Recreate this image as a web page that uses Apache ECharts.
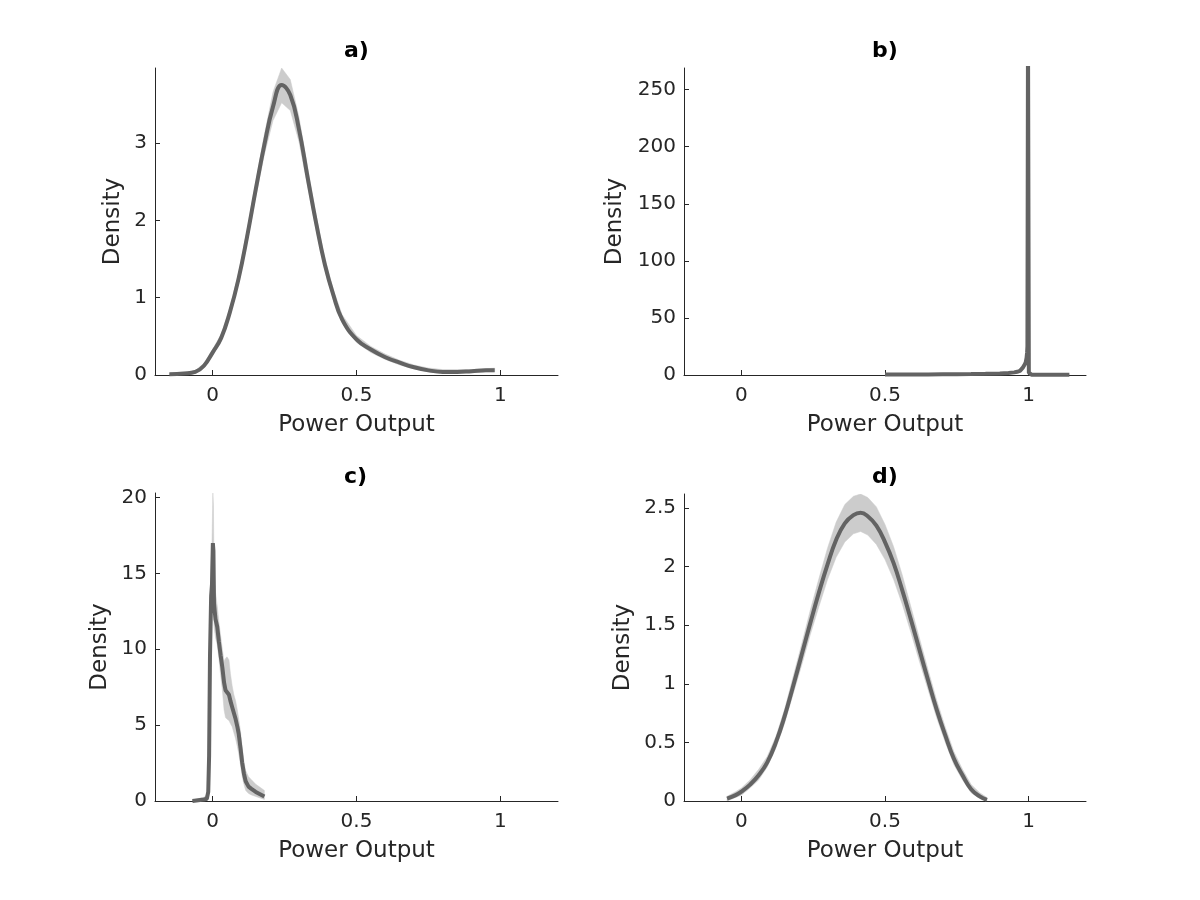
<!DOCTYPE html>
<html>
<head>
<meta charset="utf-8">
<title>Power Output density</title>
<script src="https://cdn.jsdelivr.net/npm/echarts@6/dist/echarts.min.js"></script>
<style>
  html, body { margin: 0; padding: 0; background: #fff; }
  #chart { width: 1200px; height: 900px; }
</style>
</head>
<body>
<div id="chart"></div>
<script>
// ===== Data =====

const xTicks = [0, 0.5, 1];
const yTicksA = [0, 1, 2, 3];
const yTicksB = [0, 50, 100, 150, 200, 250];
const yTicksC = [0, 5, 10, 15, 20];
const yTicksD = [0, 0.5, 1, 1.5, 2, 2.5];

// a)
const aX    = [-0.15, -0.10, -0.06, -0.03, 0.00, 0.03, 0.06, 0.09, 0.12, 0.15, 0.18, 0.21, 0.24, 0.27, 0.30, 0.33, 0.36, 0.39, 0.42, 0.45, 0.50, 0.55, 0.60, 0.65, 0.70, 0.75, 0.80, 0.85, 0.90, 0.95, 0.98];
const aMean = [0.01, 0.02, 0.04, 0.12, 0.29, 0.48, 0.81, 1.24, 1.79, 2.40, 2.98, 3.47, 3.75, 3.62, 3.18, 2.56, 1.96, 1.43, 1.03, 0.72, 0.46, 0.33, 0.23, 0.16, 0.10, 0.06, 0.04, 0.04, 0.05, 0.06, 0.06];
const aLow  = [0.00, 0.01, 0.02, 0.09, 0.25, 0.44, 0.76, 1.18, 1.71, 2.30, 2.85, 3.29, 3.52, 3.42, 3.02, 2.44, 1.87, 1.36, 0.97, 0.67, 0.42, 0.29, 0.20, 0.13, 0.08, 0.04, 0.03, 0.03, 0.03, 0.04, 0.04];
const aHigh = [0.02, 0.03, 0.06, 0.15, 0.33, 0.53, 0.87, 1.31, 1.87, 2.50, 3.11, 3.66, 3.97, 3.82, 3.34, 2.69, 2.06, 1.51, 1.10, 0.78, 0.51, 0.37, 0.27, 0.19, 0.13, 0.09, 0.07, 0.07, 0.07, 0.08, 0.09];

// b)
const bX    = [0.50, 0.55, 0.60, 0.65, 0.70, 0.75, 0.80, 0.85, 0.90, 0.93, 0.95, 0.96, 0.97, 0.98, 0.985, 0.99, 0.993, 0.995, 0.996, 0.998, 1.000, 1.001, 1.003, 1.01, 1.05, 1.10, 1.142];
const bMean = [0.4, 0.4, 0.5, 0.5, 0.6, 0.7, 0.8, 1.0, 1.3, 1.8, 2.3, 2.8, 3.6, 6.5, 8.5, 11, 15, 20, 25, 300, 300, 2.0, 0.5, 0.3, 0.3, 0.3, 0.3];
const bLow  = [0.2, 0.2, 0.3, 0.3, 0.4, 0.5, 0.6, 0.8, 1.0, 1.4, 1.8, 2.2, 2.9, 5.2, 6.8, 8.8, 12, 16, 20, 290, 290, 1.0, 0.2, 0.1, 0.1, 0.1, 0.1];
const bHigh = [0.6, 0.6, 0.7, 0.7, 0.8, 0.9, 1.0, 1.2, 1.6, 2.2, 2.8, 3.4, 4.3, 7.8, 10.2, 13.2, 18, 24, 30, 310, 310, 3.0, 0.8, 0.5, 0.5, 0.5, 0.5];

// c)
const cX    = [-0.070, -0.050, -0.030, -0.020, -0.015, -0.012, -0.009, -0.005, -0.002, 0.001, 0.003, 0.005, 0.010, 0.016, 0.022, 0.028, 0.034, 0.040, 0.045, 0.050, 0.057, 0.062, 0.068, 0.074, 0.080, 0.086, 0.091, 0.097, 0.103, 0.109, 0.115, 0.125, 0.135, 0.150, 0.165, 0.180];
const cMean = [0.00, 0.05, 0.10, 0.15, 0.60, 3.00, 9.50, 13.5, 14.3, 17.0, 16.5, 13.0, 12.0, 11.5, 10.5, 9.6, 8.8, 7.8, 7.3, 7.3, 7.0, 6.6, 6.2, 5.8, 5.4, 4.9, 4.4, 3.5, 2.5, 1.8, 1.3, 0.95, 0.80, 0.60, 0.45, 0.30];
const cLow  = [0.00, 0.00, 0.00, 0.00, 0.20, 2.00, 8.00, 12.0, 12.5, 14.5, 14.0, 11.5, 10.8, 10.3, 9.4, 8.3, 7.3, 6.0, 5.5, 5.4, 5.3, 5.1, 4.9, 4.5, 4.1, 3.6, 3.1, 2.4, 1.6, 1.1, 0.7, 0.5, 0.4, 0.3, 0.2, 0.1];
const cHigh = [0.05, 0.15, 0.25, 0.40, 1.20, 4.50, 11.5, 15.5, 17.0, 20.3, 19.5, 15.5, 13.8, 12.9, 11.8, 10.9, 10.0, 9.2, 9.4, 9.5, 9.3, 8.4, 7.6, 7.0, 6.6, 6.0, 5.4, 4.6, 3.5, 2.6, 2.0, 1.6, 1.4, 1.1, 0.9, 0.7];

// d)
const dX    = [-0.05, -0.02, 0.00, 0.03, 0.06, 0.09, 0.12, 0.15, 0.18, 0.21, 0.24, 0.27, 0.30, 0.33, 0.36, 0.39, 0.415, 0.44, 0.47, 0.50, 0.53, 0.56, 0.59, 0.62, 0.65, 0.68, 0.71, 0.74, 0.77, 0.80, 0.83, 0.855];
const dMean = [0.02, 0.05, 0.08, 0.14, 0.22, 0.33, 0.50, 0.72, 0.98, 1.25, 1.52, 1.78, 2.02, 2.23, 2.37, 2.44, 2.46, 2.43, 2.35, 2.21, 2.03, 1.80, 1.55, 1.29, 1.03, 0.78, 0.56, 0.36, 0.22, 0.10, 0.04, 0.01];
const dLow  = [0.00, 0.03, 0.05, 0.11, 0.18, 0.29, 0.45, 0.66, 0.91, 1.16, 1.42, 1.66, 1.89, 2.08, 2.21, 2.28, 2.30, 2.27, 2.19, 2.06, 1.89, 1.68, 1.44, 1.19, 0.95, 0.71, 0.50, 0.31, 0.18, 0.07, 0.02, 0.00];
const dHigh = [0.04, 0.08, 0.11, 0.18, 0.27, 0.38, 0.55, 0.78, 1.06, 1.34, 1.63, 1.90, 2.16, 2.38, 2.53, 2.60, 2.62, 2.59, 2.51, 2.36, 2.17, 1.93, 1.66, 1.39, 1.12, 0.86, 0.63, 0.42, 0.27, 0.14, 0.07, 0.03];

// ===== Layout =====

const TEXT = '#262626';
const FONT = 'DejaVu Sans';
const LINE_COLOR = '#636363';
const BAND_COLOR = '#cccccc';

const panels = [
  { title: 'a)', x: aX, mean: aMean, low: aLow, high: aHigh, yMax: 3.97, yTicks: yTicksA, smooth: 0.45,
    grid: { left: 155, top: 68, width: 403, height: 307 }, nameGap: 30, titlePos: { left: 344, top: 40 } },
  { title: 'b)', x: bX, mean: bMean, low: bLow, high: bHigh, yMax: 269, yTicks: yTicksB, smooth: false,
    grid: { left: 684, top: 68, width: 402, height: 307 }, nameGap: 57, titlePos: { left: 872, top: 40 } },
  { title: 'c)', x: cX, mean: cMean, low: cLow, high: cHigh, yMax: 20.3, yTicks: yTicksC, smooth: false,
    grid: { left: 155, top: 493, width: 403, height: 308 }, nameGap: 43, titlePos: { left: 344, top: 466 } },
  { title: 'd)', x: dX, mean: dMean, low: dLow, high: dHigh, yMax: 2.62, yTicks: yTicksD, smooth: 0.45,
    grid: { left: 684, top: 494, width: 402, height: 307 }, nameGap: 49, titlePos: { left: 872, top: 466 } }
];

function axisStyle(ticks) {
  return {
    axisLine: { onZero: false, lineStyle: { color: TEXT, width: 1 } },
    axisTick: { inside: true, length: 5, customValues: ticks, lineStyle: { color: TEXT, width: 1 } },
    splitLine: { show: false },
    nameTextStyle: { color: TEXT, fontFamily: FONT, fontSize: 23 }
  };
}

// confidence band: one polygon, upper edge forward and lower edge back
function bandRenderer(p) {
  return function (params, api) {
    if (params.dataIndex !== 0) return null;
    const pts = [];
    for (let k = 0; k < p.x.length; k++) pts.push(api.coord([p.x[k], p.high[k]]));
    for (let k = p.x.length - 1; k >= 0; k--) pts.push(api.coord([p.x[k], p.low[k]]));
    return {
      type: 'polygon',
      shape: { points: pts },
      style: { fill: BAND_COLOR, stroke: BAND_COLOR, lineWidth: 0.5 }
    };
  };
}

function buildOption() {
  const option = {
    animation: false,
    backgroundColor: '#ffffff',
    title: [], grid: [], xAxis: [], yAxis: [], series: []
  };

  panels.forEach((p, i) => {
    option.title.push({
      text: p.title,
      left: p.titlePos.left,
      top: p.titlePos.top,
      padding: 0,
      textStyle: { color: '#000', fontFamily: FONT, fontSize: 22, fontWeight: 'bold' }
    });
    option.grid.push(p.grid);

    option.xAxis.push(Object.assign(axisStyle(xTicks), {
      type: 'value', gridIndex: i, min: -0.2, max: 1.2,
      name: 'Power Output', nameLocation: 'middle', nameGap: 39,
      axisLabel: { customValues: xTicks, color: TEXT, fontFamily: FONT, fontSize: 20, margin: 11 }
    }));

    option.yAxis.push(Object.assign(axisStyle(p.yTicks), {
      type: 'value', gridIndex: i, min: 0, max: p.yMax,
      name: 'Density', nameLocation: 'middle', nameGap: p.nameGap,
      axisLabel: { customValues: p.yTicks, color: TEXT, fontFamily: FONT, fontSize: 20, margin: 8 }
    }));

    option.series.push({
      type: 'custom', xAxisIndex: i, yAxisIndex: i,
      data: p.x.map((v, k) => [v, p.low[k], p.high[k]]),
      encode: { x: 0, y: [1, 2] },
      renderItem: bandRenderer(p),
      clip: true, silent: true, z: 1
    });
    option.series.push({
      type: 'line', xAxisIndex: i, yAxisIndex: i,
      data: p.x.map((v, k) => [v, p.mean[k]]),
      symbol: 'none', smooth: p.smooth, z: 2,
      lineStyle: { color: LINE_COLOR, width: 4 }
    });
  });

  return option;
}

const myChart = echarts.init(document.getElementById('chart'));
myChart.setOption(buildOption());
window.addEventListener('resize', () => myChart.resize());
</script>
</body>
</html>
